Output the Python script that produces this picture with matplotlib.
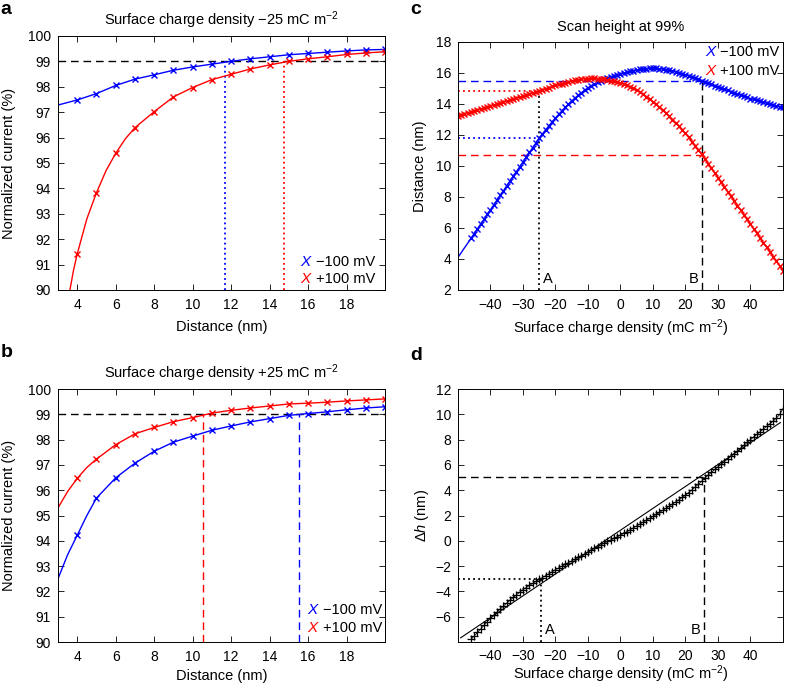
import numpy as np
import matplotlib.pyplot as plt

plt.rcParams['font.family'] = ['Liberation Sans', 'DejaVu Sans']
plt.rcParams['mathtext.fontset'] = 'custom'
plt.rcParams['mathtext.rm'] = 'Liberation Sans'
plt.rcParams['mathtext.it'] = 'Liberation Sans:italic'
plt.rcParams['font.size'] = 10

# ---------------- data: panel a (sigma = -25 mC m-2) ----------------
a_neg_x = [3, 4, 5, 6, 7, 8, 9, 10, 11, 12, 13, 14, 15, 16, 17, 18, 19, 20]
a_neg_y = [97.28, 97.48, 97.73, 98.05, 98.30, 98.47, 98.65, 98.78, 98.89, 99.00,
           99.10, 99.18, 99.26, 99.31, 99.36, 99.41, 99.45, 99.47]
a_pos_x = [3.62, 3.8, 4, 4.5, 5, 5.5, 6, 6.5, 7, 8, 9, 10, 11, 12, 13, 14, 15, 16,
           17, 18, 19, 20]
a_pos_y = [90.0, 90.75, 91.42, 92.80, 93.83, 94.70, 95.38, 95.95, 96.39, 97.02,
           97.60, 97.97, 98.28, 98.49, 98.70, 98.86, 99.00, 99.10, 99.18, 99.27,
           99.33, 99.38]
a_cut_neg = 11.7
a_cut_pos = 14.75

# ---------------- data: panel b (sigma = +25 mC m-2) ----------------
b_neg_x = [3, 3.5, 4, 4.5, 5, 6, 7, 8, 9, 10, 11, 12, 13, 14, 15, 16, 17, 18, 19, 20]
b_neg_y = [92.50, 93.45, 94.22, 95.00, 95.69, 96.49, 97.07, 97.54, 97.90, 98.14,
           98.37, 98.54, 98.70, 98.83, 98.96, 99.03, 99.10, 99.18, 99.25, 99.30]
b_pos_x = [3, 3.5, 4, 4.5, 5, 6, 7, 8, 9, 10, 11, 12, 13, 14, 15, 16, 17, 18, 19, 20]
b_pos_y = [95.30, 95.95, 96.47, 96.90, 97.23, 97.80, 98.23, 98.48, 98.71, 98.87,
           99.05, 99.16, 99.25, 99.33, 99.41, 99.44, 99.48, 99.53, 99.57, 99.61]
b_cut_pos = 10.55
b_cut_neg = 15.55

# ---------------- data: panel c (scan height at 99%) ----------------
sigma = list(range(-50, 51))
c_neg = [4.10, 4.41, 4.72, 5.02, 5.33, 5.64, 5.95, 6.26, 6.56, 6.87,
         7.18, 7.49, 7.80, 8.10, 8.41, 8.72, 9.03, 9.34, 9.64, 9.95,
         10.26, 10.57, 10.88, 11.18, 11.49, 11.80, 12.07, 12.34, 12.60, 12.85,
         13.10, 13.33, 13.56, 13.78, 13.99, 14.20, 14.38, 14.56, 14.73, 14.89,
         15.05, 15.18, 15.30, 15.41, 15.51, 15.60, 15.68, 15.76, 15.83, 15.89,
         15.95, 16.00, 16.05, 16.10, 16.15, 16.19, 16.23, 16.26, 16.28, 16.30,
         16.30, 16.29, 16.27, 16.25, 16.22, 16.19, 16.14, 16.08, 16.02, 15.96,
         15.90, 15.82, 15.74, 15.66, 15.58, 15.50, 15.42, 15.34, 15.26, 15.18,
         15.10, 15.02, 14.95, 14.87, 14.80, 14.72, 14.65, 14.57, 14.50, 14.42,
         14.35, 14.29, 14.23, 14.17, 14.11, 14.05, 13.99, 13.94, 13.89, 13.83,
         13.78]
c_pos = [13.25, 13.31, 13.38, 13.44, 13.51, 13.57, 13.63, 13.69, 13.76, 13.82,
         13.88, 13.94, 14.01, 14.07, 14.14, 14.20, 14.26, 14.33, 14.39, 14.46,
         14.52, 14.59, 14.65, 14.72, 14.78, 14.85, 14.92, 14.99, 15.06, 15.13,
         15.20, 15.26, 15.32, 15.38, 15.43, 15.48, 15.52, 15.56, 15.60, 15.63,
         15.64, 15.65, 15.65, 15.63, 15.61, 15.58, 15.55, 15.51, 15.47, 15.42,
         15.36, 15.29, 15.21, 15.12, 15.02, 14.91, 14.77, 14.63, 14.48, 14.32,
         14.15, 13.97, 13.78, 13.59, 13.40, 13.20, 12.99, 12.78, 12.56, 12.33,
         12.10, 11.84, 11.57, 11.30, 11.03, 10.75, 10.45, 10.15, 9.85, 9.55,
         9.25, 8.95, 8.65, 8.35, 8.05, 7.75, 7.45, 7.15, 6.85, 6.55,
         6.25, 5.95, 5.65, 5.35, 5.05, 4.75, 4.45, 4.15, 3.85, 3.55,
         3.25]
c_A, c_B = -25, 25
c_A_neg, c_A_pos = 11.80, 14.84
c_B_neg, c_B_pos = 15.50, 10.70

# ---------------- data: panel d (delta h) ----------------
d_sigma = list(range(-46, 51))
d_dh = [-7.80, -7.52, -7.24, -6.96, -6.68, -6.40, -6.13, -5.88, -5.63, -5.39,
        -5.15, -4.92, -4.70, -4.48, -4.27, -4.06, -3.86, -3.69, -3.52, -3.36,
        -3.20, -3.05, -2.90, -2.75, -2.60, -2.44, -2.28, -2.14, -2.00, -1.86,
        -1.72, -1.58, -1.44, -1.30, -1.16, -1.02, -0.88, -0.74, -0.60, -0.46,
        -0.32, -0.18, -0.05, 0.07, 0.19, 0.32, 0.45, 0.59, 0.73, 0.88,
        1.03, 1.18, 1.33, 1.48, 1.63, 1.78, 1.93, 2.09, 2.25, 2.41,
        2.57, 2.74, 2.91, 3.08, 3.25, 3.43, 3.61, 3.82, 4.04, 4.26,
        4.49, 4.72, 4.97, 5.20, 5.42, 5.64, 5.85, 6.06, 6.27, 6.48,
        6.69, 6.90, 7.12, 7.34, 7.56, 7.78, 8.00, 8.21, 8.42, 8.63,
        8.84, 9.05, 9.26, 9.47, 9.70, 10.00, 10.45]
fit_x = [-49.2, 49.2]
fit_y = [-7.67, 9.35]
d_A, d_B = -24.5, 25.6
d_A_val, d_B_val = -2.98, 5.03

# ---------------- style ----------------
DASH = (0, (5.5, 3.5))
DOT = (0, (1.0, 1.8))
BLUE = (0.0, 0.0, 1.0)
RED = (1.0, 0.0, 0.0)


def style(ax, xpad=6):
    ax.tick_params(direction='in', top=True, right=True, length=4, width=0.6)
    ax.tick_params(axis='x', pad=xpad)
    ax.tick_params(axis='y', pad=5)
    for s in ax.spines.values():
        s.set_linewidth(0.7)


def curve(ax, x, y, color, xmin_mark):
    x = np.asarray(x, dtype=float)
    mark = list(np.isclose(x, np.round(x)) & (x >= xmin_mark))
    ax.plot(x, y, '-', color=color, lw=1.0, marker='x', ms=4.5, mew=1.0,
            markevery=mark, clip_on=True)


def legend_text(ax, xX, xL, y1, y2):
    ax.text(xX, y1, 'X', color=BLUE, style='italic', fontsize=11,
            transform=ax.transAxes, va='center', ha='left')
    ax.text(xL, y1, '\u2212100 mV', fontsize=10.5, transform=ax.transAxes,
            va='center', ha='left')
    ax.text(xX, y2, 'X', color=RED, style='italic', fontsize=11,
            transform=ax.transAxes, va='center', ha='left')
    ax.text(xL, y2, '+100 mV', fontsize=10.5, transform=ax.transAxes,
            va='center', ha='left')


fig = plt.figure(figsize=(7.88, 6.86), dpi=100)
ax_a = fig.add_axes([0.0736, 0.5773, 0.4150, 0.3703])
ax_b = fig.add_axes([0.0736, 0.0641, 0.4150, 0.3688])
ax_c = fig.add_axes([0.5812, 0.5773, 0.4124, 0.3615])
ax_d = fig.add_axes([0.5812, 0.0641, 0.4124, 0.3688])

# ---- panel a ----
ax = ax_a
ax.plot([3, 20], [99, 99], color='k', ls=DASH, lw=1.0)
ax.plot([a_cut_neg, a_cut_neg], [90, 99], color=BLUE, ls=DOT, lw=1.3)
ax.plot([a_cut_pos, a_cut_pos], [90, 99], color=RED, ls=DOT, lw=1.3)
curve(ax, a_neg_x, a_neg_y, BLUE, 4)
curve(ax, a_pos_x, a_pos_y, RED, 4)
ax.set_xlim(3, 20)
ax.set_ylim(90, 100)
ax.set_xticks([4, 6, 8, 10, 12, 14, 16, 18])
ax.set_yticks(range(90, 101))
ax.set_title('Surface charge density \u221225 mC m$^{-2}$', fontsize=10.5, pad=8)
ax.set_xlabel('Distance (nm)', fontsize=10.5)
ax.set_ylabel('Normalized current (%)', fontsize=10.5)
ax.xaxis.set_label_coords(0.5, -0.146)
ax.xaxis.label.set_va('center')
ax.yaxis.set_label_coords(-0.15, 0.5)
ax.yaxis.label.set_va('center')
legend_text(ax, 0.74, 0.79, 0.11, 0.043)
style(ax)

# ---- panel b ----
ax = ax_b
ax.plot([3, 20], [99, 99], color='k', ls=DASH, lw=1.0)
ax.plot([b_cut_pos, b_cut_pos], [90, 99], color=RED, ls=DASH, lw=1.0)
ax.plot([b_cut_neg, b_cut_neg], [90, 99], color=BLUE, ls=DASH, lw=1.0)
curve(ax, b_neg_x, b_neg_y, BLUE, 4)
curve(ax, b_pos_x, b_pos_y, RED, 4)
ax.set_xlim(3, 20)
ax.set_ylim(90, 100)
ax.set_xticks([4, 6, 8, 10, 12, 14, 16, 18])
ax.set_yticks(range(90, 101))
ax.set_title('Surface charge density +25 mC m$^{-2}$', fontsize=10.5, pad=8)
ax.set_xlabel('Distance (nm)', fontsize=10.5)
ax.set_ylabel('Normalized current (%)', fontsize=10.5)
ax.xaxis.set_label_coords(0.5, -0.134)
ax.xaxis.label.set_va('center')
ax.yaxis.set_label_coords(-0.15, 0.5)
ax.yaxis.label.set_va('center')
legend_text(ax, 0.762, 0.81, 0.126, 0.055)
style(ax)

# ---- panel c ----
ax = ax_c
ax.plot([-50, c_B], [c_B_neg, c_B_neg], color=BLUE, ls=DASH, lw=1.0)
ax.plot([-50, c_B], [c_B_pos, c_B_pos], color=RED, ls=DASH, lw=1.0)
ax.plot([-50, c_A], [c_A_neg, c_A_neg], color=BLUE, ls=DOT, lw=1.3)
ax.plot([-50, c_A], [c_A_pos, c_A_pos], color=RED, ls=DOT, lw=1.3)
ax.plot([c_A, c_A], [2, c_A_pos], color='k', ls=DOT, lw=1.3)
ax.plot([c_B, c_B], [2, c_B_neg], color='k', ls=DASH, lw=1.0)
curve(ax, sigma, c_neg, BLUE, -46)
curve(ax, sigma, c_pos, RED, -50)
ax.text(c_A + 1.2, 2.45, 'A', fontsize=10.5, ha='left', va='baseline')
ax.text(c_B - 1.0, 2.45, 'B', fontsize=10.5, ha='right', va='baseline')
ax.set_xlim(-50, 50)
ax.set_ylim(2, 18)
ax.set_xticks(range(-40, 41, 10))
ax.set_yticks(range(2, 19, 2))
ax.set_title('Scan height at 99%', fontsize=10.5, pad=8)
ax.set_xlabel('Surface charge density (mC m$^{-2}$)', fontsize=10.5)
ax.set_ylabel('Distance (nm)', fontsize=10.5)
ax.xaxis.set_label_coords(0.5, -0.153)
ax.xaxis.label.set_va('center')
ax.yaxis.set_label_coords(-0.117, 0.5)
ax.yaxis.label.set_va('center')
legend_text(ax, 0.76, 0.805, 0.958, 0.883)
style(ax)

# ---- panel d ----
ax = ax_d
ax.plot([-50, d_A], [d_A_val, d_A_val], color='k', ls=DOT, lw=1.3)
ax.plot([d_A, d_A], [-8, d_A_val], color='k', ls=DOT, lw=1.3)
ax.plot([-50, d_B], [d_B_val, d_B_val], color='k', ls=DASH, lw=1.0)
ax.plot([d_B, d_B], [-8, d_B_val], color='k', ls=DASH, lw=1.0)
ax.plot(fit_x, fit_y, color='k', lw=0.8)
ax.plot(d_sigma, d_dh, '-', color='k', lw=0.6, marker='+', ms=6, mew=0.9)
ax.text(d_A + 1.2, -7.4, 'A', fontsize=10.5, ha='left', va='baseline')
ax.text(d_B - 1.0, -7.4, 'B', fontsize=10.5, ha='right', va='baseline')
ax.set_xlim(-50, 50)
ax.set_ylim(-8, 12)
ax.set_xticks(range(-40, 41, 10))
ax.set_yticks(range(-6, 13, 2))
ax.set_xlabel('Surface charge density (mC m$^{-2}$)', fontsize=10.5)
ax.set_ylabel('\u0394$h$ (nm)', fontsize=10.5)
ax.xaxis.set_label_coords(0.5, -0.128)
ax.xaxis.label.set_va('center')
ax.yaxis.set_label_coords(-0.112, 0.5)
ax.yaxis.label.set_va('center')
style(ax, xpad=5)

# ---- panel letters ----
fig.text(0.001, 1 - 1 / 686, 'a', fontsize=14, fontweight='bold', va='top')
fig.text(0.001, 1 - 344 / 686, 'b', fontsize=14, fontweight='bold', va='top')
fig.text(410 / 788, 1 - 1 / 686, 'c', fontsize=14, fontweight='bold', va='top')
fig.text(410 / 788, 1 - 347 / 686, 'd', fontsize=14, fontweight='bold', va='top')

fig.savefig('out.png', dpi=100)
